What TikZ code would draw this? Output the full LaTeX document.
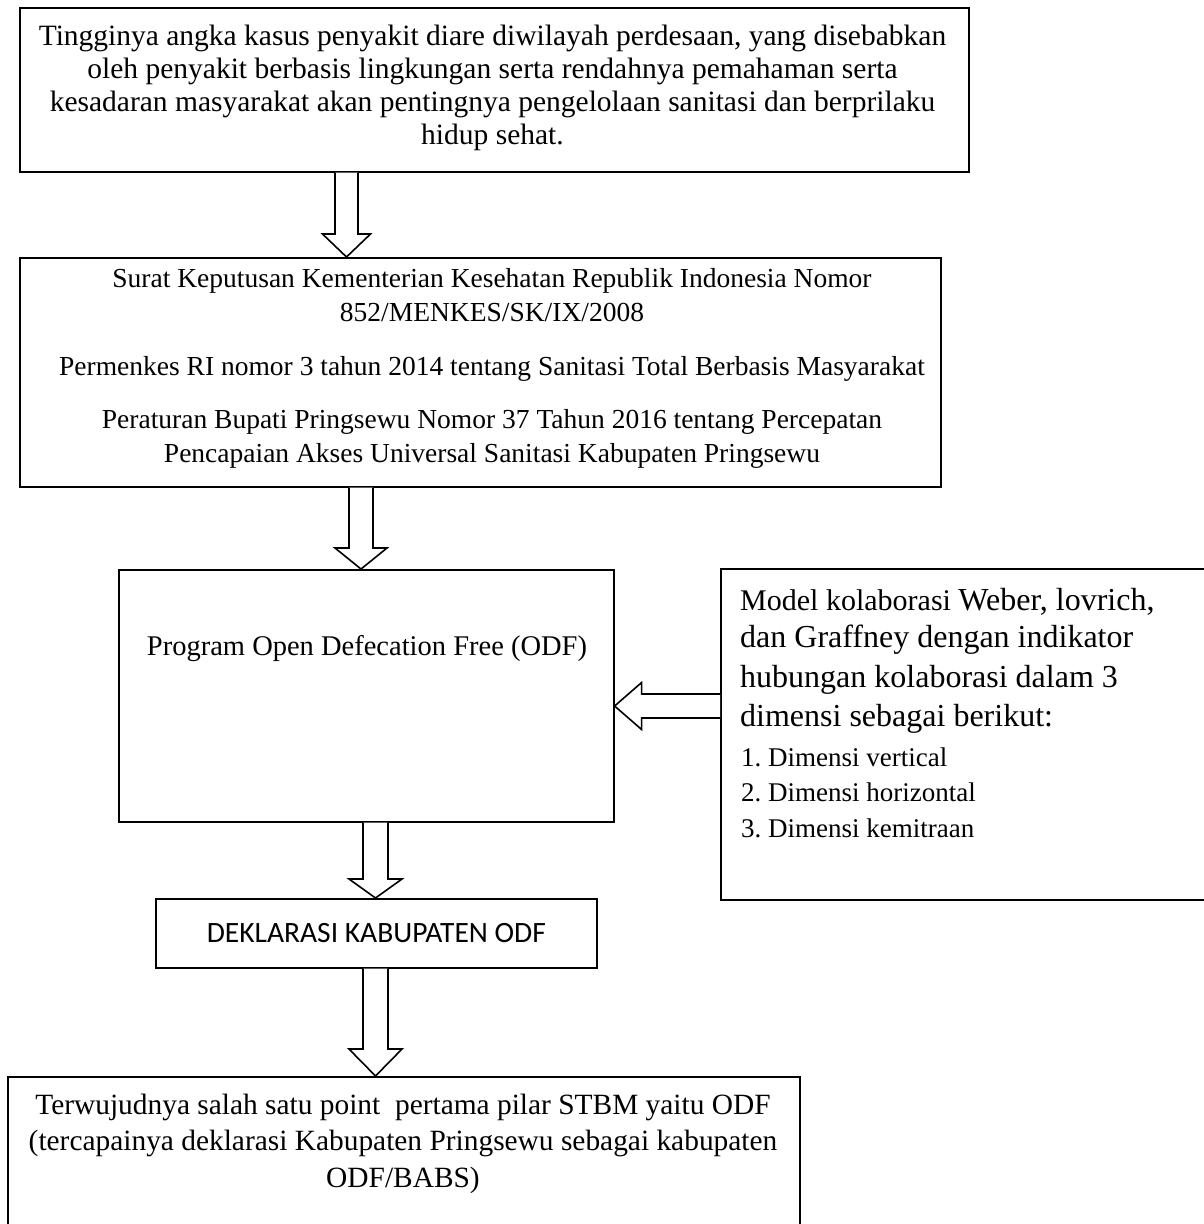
\documentclass[tikz,border=0pt]{standalone}
\usepackage{fontspec}
\setmainfont{Liberation Serif}
\newfontfamily\carl{Carlito}
\usetikzlibrary{calc}
\tikzset{
  box/.style={draw, line width=1.6pt, rectangle, inner sep=0pt, anchor=north west},
  blk/.style={draw, line width=1.6pt, fill=white, line join=miter},
  txt/.style={inner sep=0pt, align=center},
  rline/.style={inner sep=0pt, anchor=base west},
}
% #1 start, #2 tip, #3 shaft half width, #4 head half width, #5 head length
\newcommand\blkdown[5]{%
  \draw[blk] ($(#1)+(-#3,0)$) -- ($(#2)+(-#3,-#5)$) -- ($(#2)+(-#4,-#5)$) -- (#2)
    -- ($(#2)+(#4,-#5)$) -- ($(#2)+(#3,-#5)$) -- ($(#1)+(#3,0)$);}
\newcommand\blkleft[5]{%
  \draw[blk] ($(#1)+(0,-#3)$) -- ($(#2)+(#5,-#3)$) -- ($(#2)+(#5,-#4)$) -- (#2)
    -- ($(#2)+(#5,#4)$) -- ($(#2)+(#5,#3)$) -- ($(#1)+(0,#3)$);}
\begin{document}
\frenchspacing
\begin{tikzpicture}[x=1pt,y=-1pt]
\useasboundingbox (0,0) rectangle (1204,1224);
\fill[white] (0,0) rectangle (1204,1224);

% box 1
\node[box, minimum width=949pt, minimum height=164pt] (b1) at (19,7) {};
\node[txt, font=\fontsize{29.5}{33}\selectfont] (t1) at (492.5,87.5)
  {Tingginya angka kasus penyakit diare diwilayah perdesaan, yang disebabkan\\
   oleh penyakit berbasis lingkungan serta rendahnya pemahaman serta\\
   kesadaran masyarakat akan pentingnya pengelolaan sanitasi dan berprilaku\\
   hidup sehat.};

% box 2
\node[box, minimum width=921pt, minimum height=229pt] (b2) at (19,257) {};
\node[txt, font=\fontsize{27.5}{34}\selectfont] (t2) at (492,368)
  {Surat Keputusan Kementerian Kesehatan Republik Indonesia Nomor\\
   852/MENKES/SK/IX/2008\\[20pt]
   Permenkes RI nomor 3 tahun 2014 tentang Sanitasi Total Berbasis Masyarakat\\[19pt]
   Peraturan Bupati Pringsewu Nomor 37 Tahun 2016 tentang Percepatan\\
   Pencapaian Akses Universal Sanitasi Kabupaten Pringsewu};

% box 3
\node[box, minimum width=495pt, minimum height=252pt] (b3) at (118,569) {};
\node[txt, anchor=base, font=\fontsize{28.5}{32}\selectfont] (t3) at (367,655)
  {Program Open Defecation Free (ODF)};

% right box
\node[box, minimum width=490pt, minimum height=331pt] (r) at (720,568) {};
\node[rline] (r1) at (740,610) {{\fontsize{30}{34}\selectfont Model kolaborasi }{\fontsize{32}{36}\selectfont Weber, lovrich,}};
\node[rline, font=\fontsize{32}{36}\selectfont] (r2) at (740,647) {dan Graffney dengan indikator};
\node[rline, font=\fontsize{32}{36}\selectfont] (r3) at (740,687) {hubungan kolaborasi dalam 3};
\node[rline, font=\fontsize{32}{36}\selectfont] (r4) at (740,726) {dimensi sebagai berikut:};
\node[rline, font=\fontsize{27}{30}\selectfont] (r5) at (741,766) {1. Dimensi vertical};
\node[rline, font=\fontsize{27}{30}\selectfont] (r6) at (741,801) {2. Dimensi horizontal};
\node[rline, font=\fontsize{27}{30}\selectfont] (r7) at (741,837) {3. Dimensi kemitraan};

% box 4
\node[box, minimum width=441pt, minimum height=69pt,
      font=\carl\fontsize{29.5}{33}\selectfont] (b4) at (155,898) {DEKLARASI KABUPATEN ODF};

% box 5
\node[box, minimum width=792pt, minimum height=160pt] (b5) at (7,1076) {};
\node[txt, font=\fontsize{29.4}{36.5}\selectfont] (t5) at (403,1143.5)
  {Terwujudnya salah satu point~ pertama pilar STBM yaitu ODF\\
   (tercapainya deklarasi Kabupaten Pringsewu sebagai kabupaten\\
   ODF/BABS)};

% connectors
\coordinate (a1s) at (346.5,0 |- b1.south);
\coordinate (a1e) at (346.5,0 |- b2.north);
\coordinate (a2s) at (361,0 |- b2.south);
\coordinate (a2e) at (361,0 |- b3.north);
\coordinate (a3s) at (375.5,0 |- b3.south);
\coordinate (a3e) at (375.5,0 |- b4.north);
\coordinate (a4s) at (375.5,0 |- b4.south);
\coordinate (a4e) at (375.5,0 |- b5.north);
\coordinate (a5s) at (r.west |- 0,706);
\coordinate (a5e) at (b3.east |- 0,706);

\blkdown{a1s}{a1e}{11.5}{24}{23}
\blkdown{a2s}{a2e}{12}{26}{21}
\blkdown{a3s}{a3e}{12.5}{26.5}{19}
\blkdown{a4s}{a4e}{12.5}{26.5}{27}
\blkleft{a5s}{a5e}{12}{23.5}{27}
\end{tikzpicture}
\end{document}
